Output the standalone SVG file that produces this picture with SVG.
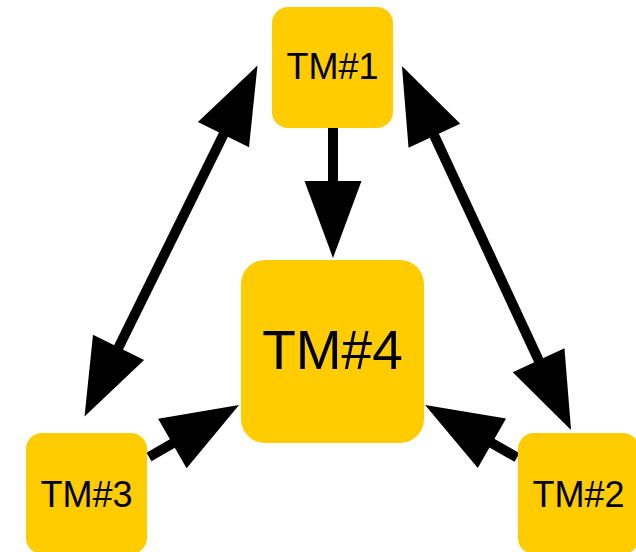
<svg xmlns="http://www.w3.org/2000/svg" width="636" height="552" viewBox="0 0 636 552">
  <style>
    .box { fill: #FFCC00; }
    .lbl { font-family: "Liberation Sans", Arial, sans-serif; fill: #000; text-anchor: middle; }
    .small { font-size: 36px; }
    .big { font-size: 55px; }
    .conn { stroke: #000; stroke-width: 10; fill: none; }
  </style>
  <defs>
    <marker id="head" markerUnits="userSpaceOnUse" markerWidth="77" markerHeight="57" viewBox="0 0 77 57" refX="37" refY="28.5" orient="auto-start-reverse" overflow="visible">
      <path d="M0,0 L77,28.5 L0,57 Z" fill="#000"/>
    </marker>
  </defs>
  <g id="connectors">
    <path class="conn" d="M333,128 L333,218" marker-end="url(#head)"/>
    <path class="conn" d="M239.8,101.4 L102.2,380.6" marker-start="url(#head)" marker-end="url(#head)"/>
    <path class="conn" d="M418.8,102.3 L554.2,393.7" marker-start="url(#head)" marker-end="url(#head)"/>
    <path class="conn" d="M149,457 L204.4,425" marker-end="url(#head)"/>
    <path class="conn" d="M517,457.5 L459.8,424.8" marker-end="url(#head)"/>
  </g>
  <g id="tm1">
    <rect class="box" x="272" y="7" width="121" height="121" rx="16"/>
    <text class="lbl small" x="332.5" y="79">TM#1</text>
  </g>
  <g id="tm4">
    <rect class="box" x="241" y="260" width="183" height="183" rx="24"/>
    <text class="lbl big" x="332.5" y="369">TM#4</text>
  </g>
  <g id="tm3">
    <rect class="box" x="26" y="433" width="121" height="121" rx="16"/>
    <text class="lbl small" x="86.5" y="507">TM#3</text>
  </g>
  <g id="tm2">
    <rect class="box" x="518" y="433" width="121" height="121" rx="16"/>
    <text class="lbl small" x="578.5" y="507">TM#2</text>
  </g>
</svg>
